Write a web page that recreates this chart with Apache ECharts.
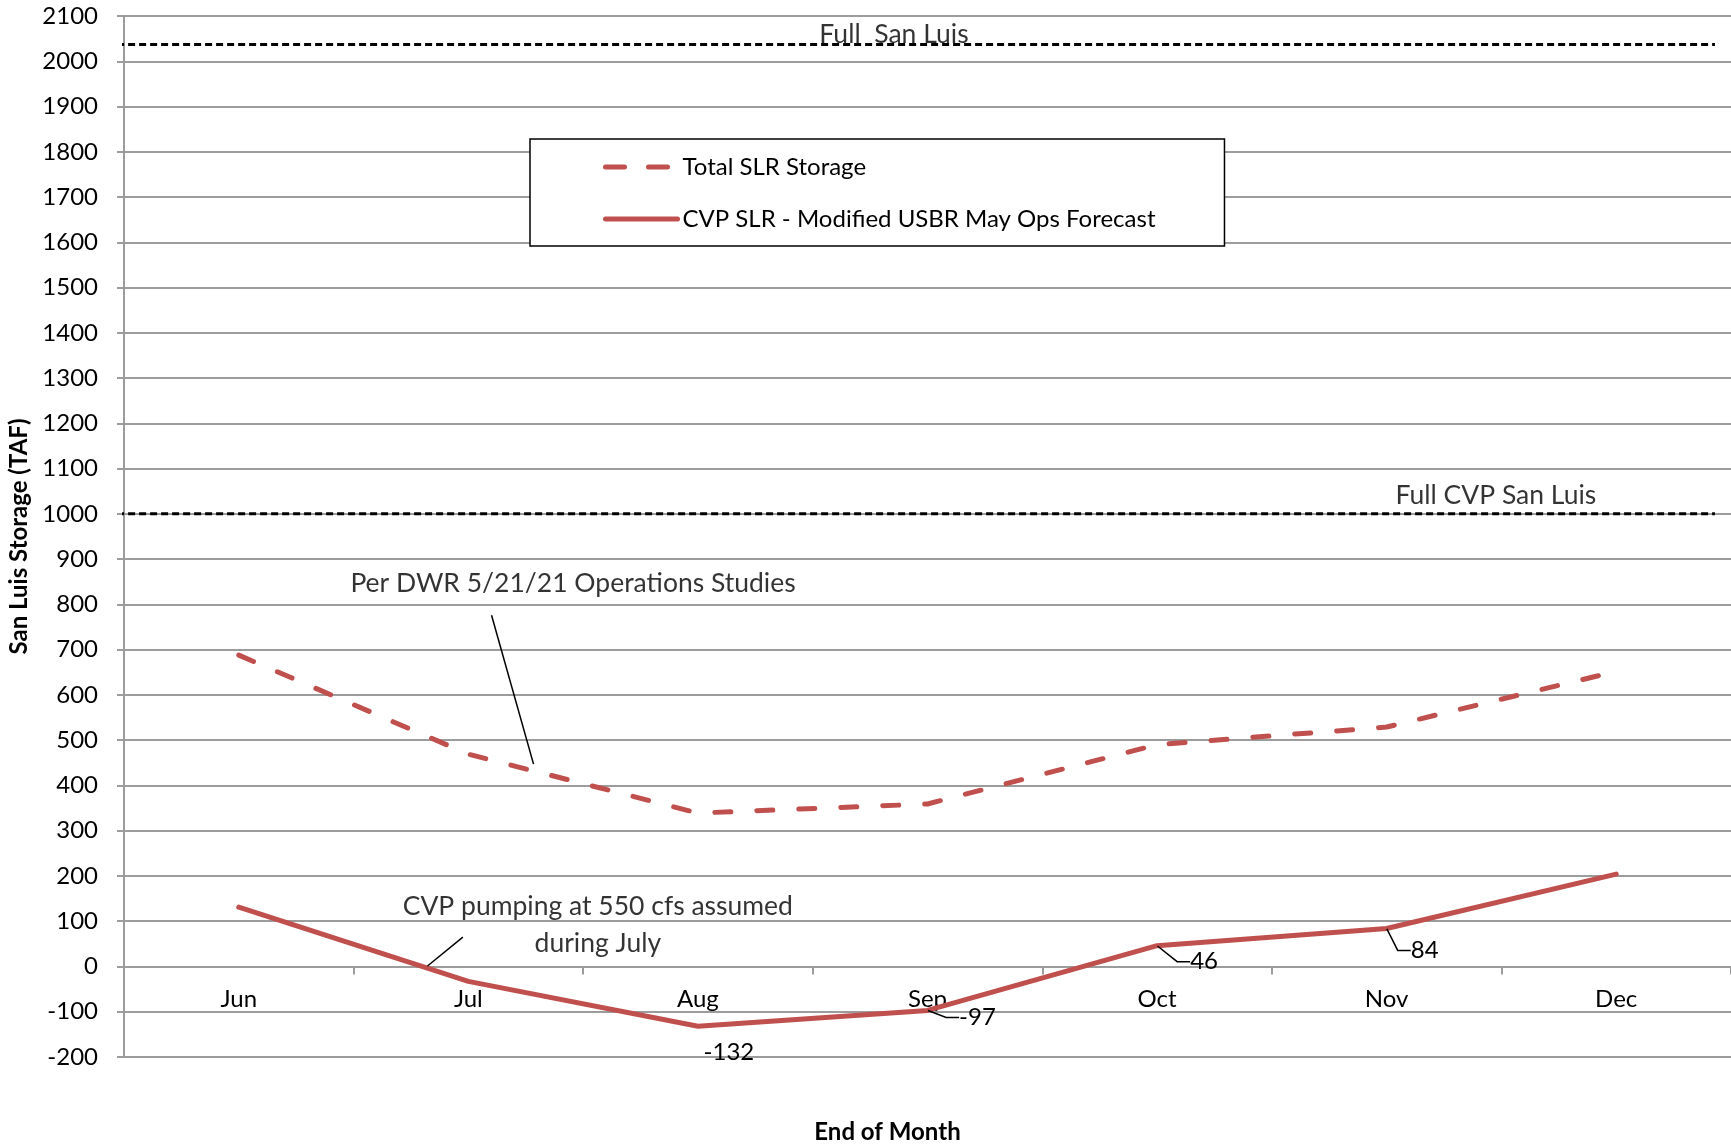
<!DOCTYPE html>
<html><head><meta charset="utf-8">
<script src="https://cdn.jsdelivr.net/npm/echarts@6/dist/echarts.min.js"></script>
<style>html,body{margin:0;padding:0;background:#fff}#c{width:1731px;height:1145px}</style>
</head><body><div id="c"></div>
<script>
// ---- data ----
const months = ['Jun', 'Jul', 'Aug', 'Sep', 'Oct', 'Nov', 'Dec'];
const totalSLR = [688, 469, 339, 359, 490, 529, 652];
const cvpSLR = [131, -33, -132, -97, 46, 84, 204];
const cvpLabelledIdx = [2, 3, 4, 5];
const fullSanLuis = 2037;
const fullCVPSanLuis = 1000;
const yMin = -200, yMax = 2100, yStep = 100;
const seriesNames = ['Total SLR Storage', 'CVP SLR - Modified USBR May Ops Forecast'];
const noteFull = 'Full  San Luis';
const noteFullCVP = 'Full CVP San Luis';
const noteDWR = 'Per DWR 5/21/21 Operations Studies';
const noteCVP = 'CVP pumping at 550 cfs assumed\nduring July';
const yName = 'San Luis Storage (TAF)';
const xName = 'End of Month';

// ---- style ----
const RED = '#C0504D';
const FONT = 'Lato';
const GRID = '#9c9c9c';
const labelOffsets = {2: [29, 26], 3: [48, 7], 4: [45, 16], 5: [36, 22]};

const chart = echarts.init(document.getElementById('c'), null, {renderer: 'canvas'});

const cvpData = cvpSLR.map((v, i) => cvpLabelledIdx.includes(i)
  ? {value: v, label: {show: true}, labelLine: {show: i !== 2}}
  : v);

const option = {
  animation: false,
  backgroundColor: '#fff',
  grid: {left: 124, right: 0, top: 16, bottom: 88, containLabel: false, outerBoundsMode: 'none'},
  legend: {
    left: 530, top: 139, orient: 'vertical',
    padding: [16, 69, 15, 73],
    itemGap: 28, itemWidth: 72, itemHeight: 14,
    borderColor: '#000', borderWidth: 1.5, backgroundColor: '#fff',
    selectedMode: false,
    itemStyle: {opacity: 0},
    lineStyle: {width: 5, cap: 'round'},
    textStyle: {fontSize: 24, fontFamily: FONT, color: '#000', lineHeight: 24},
    data: [{name: seriesNames[0], lineStyle: {type: [19, 24], width: 5, cap: 'round'}}, {name: seriesNames[1]}]
  },
  xAxis: [{
    type: 'category', data: months, boundaryGap: true,
    axisLine: {show: true, onZero: true, lineStyle: {color: GRID, width: 2}},
    axisTick: {show: true, length: 8, lineStyle: {color: GRID, width: 2}},
    axisLabel: {margin: -70, fontSize: 24, fontFamily: FONT, color: '#000'},
    name: xName, nameLocation: 'middle', nameGap: 63,
    nameTextStyle: {fontSize: 24, fontWeight: 'bold', fontFamily: FONT, color: '#000', padding: [0, 80, 0, 0]},
    splitLine: {show: false}
  }, {
    type: 'value', min: -0.5, max: 6.5, show: false
  }],
  yAxis: {
    type: 'value', min: yMin, max: yMax, interval: yStep,
    axisLine: {show: true, onZero: false, lineStyle: {color: GRID, width: 2}},
    axisTick: {show: true, length: 7, lineStyle: {color: GRID, width: 2}},
    axisLabel: {margin: 26, fontSize: 24, fontFamily: FONT, color: '#000', formatter: v => String(v)},
    splitLine: {show: true, lineStyle: {color: GRID, width: 2}},
    name: yName, nameLocation: 'middle', nameGap: 84, nameRotate: 90,
    nameTextStyle: {fontSize: 24, fontWeight: 'bold', fontFamily: FONT, color: '#000'}
  },
  series: [
    {
      name: seriesNames[0], type: 'line', data: totalSLR, symbol: 'none', z: 3,
      lineStyle: {color: RED, width: 5, type: [16, 26], cap: 'round', join: 'round'},
      itemStyle: {color: RED}
    },
    {
      name: seriesNames[1], type: 'line', data: cvpData, symbol: 'circle', symbolSize: 1,
      showSymbol: true, z: 3,
      lineStyle: {color: RED, width: 5, cap: 'round', join: 'round'},
      itemStyle: {color: RED},
      label: {show: false, position: 'inside', fontSize: 24, fontFamily: FONT, color: '#000', padding: [0, 4, 0, 8]},
      labelLine: {show: true, length2: 13, lineStyle: {color: '#000', width: 1.5}},
      labelLayout: function (p) {
        const o = labelOffsets[p.dataIndex];
        return o ? {dx: o[0], dy: o[1]} : {};
      }
    },
    {
      type: 'line', xAxisIndex: 1, symbol: 'none', clip: false, silent: true, z: 4,
      data: [[-0.53, fullSanLuis], [6.43, fullSanLuis]],
      lineStyle: {color: '#000', width: 3, type: [7, 4]}
    },
    {
      type: 'line', xAxisIndex: 1, symbol: 'none', clip: false, silent: true, z: 4,
      data: [[-0.53, fullCVPSanLuis], [6.43, fullCVPSanLuis]],
      lineStyle: {color: '#000', width: 3, type: [7, 4]}
    },
    {
      type: 'line', xAxisIndex: 1, symbol: 'none', silent: true, z: 5,
      data: [[1.101, 776], [1.284, 447]],
      lineStyle: {color: '#000', width: 1.5}
    },
    {
      type: 'line', xAxisIndex: 1, symbol: 'none', silent: true, z: 5,
      data: [[0.976, 65], [0.822, 1]],
      lineStyle: {color: '#000', width: 1.5}
    },
    {
      type: 'scatter', xAxisIndex: 1, symbolSize: 1, silent: true, z: 6,
      itemStyle: {color: 'transparent'},
      label: {show: true, position: 'inside', fontSize: 26.5, fontFamily: FONT, color: '#000', lineHeight: 37},
      data: [
        {value: [2.854, 2060], label: {formatter: noteFull}},
        {value: [5.476, 1041], label: {formatter: noteFullCVP}},
        {value: [1.456, 847], label: {formatter: noteDWR}},
        {value: [1.564, 92], label: {formatter: noteCVP}}
      ]
    }
  ]
};
chart.setOption(option);
</script>
</body></html>
